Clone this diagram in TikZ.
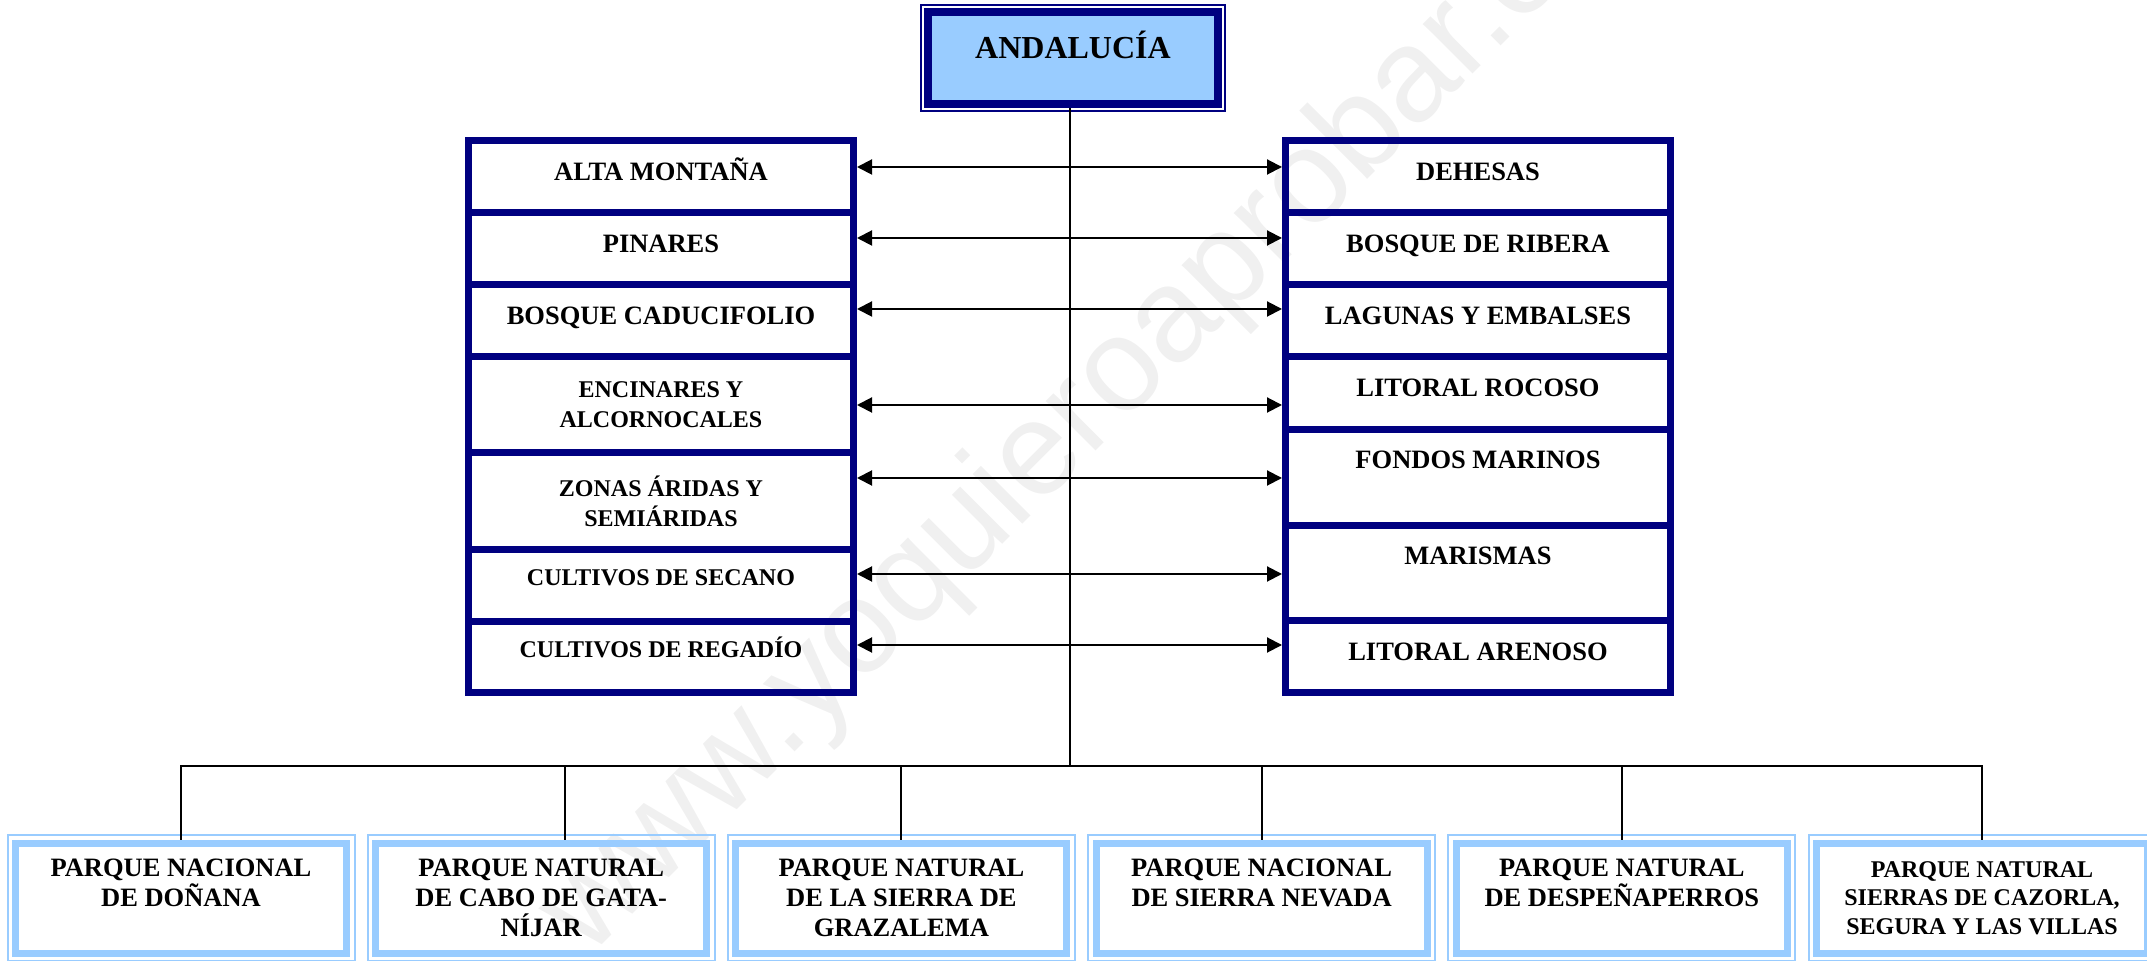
\documentclass[tikz,border=0pt]{standalone}
\usepackage{fontspec}
\setmainfont{Liberation Serif}
\newfontfamily\wmfont{Liberation Sans}
\usetikzlibrary{arrows.meta}

\definecolor{frnavy}{RGB}{0,0,128}
\definecolor{frsky}{RGB}{153,204,255}
\definecolor{wmgray}{RGB}{240,240,240}

\tikzset{every picture/.style={line width=1pt}}
\tikzset{
  navyrow/.style={draw=frnavy, line width=3.5pt, minimum width=192.5pt, inner sep=0pt,
    font=\fontsize{13.25}{15}\selectfont\bfseries},
  onetxt/.style={text height=9pt, text depth=5.5pt},
  toptxt/.style={text height=9pt, text depth=18pt},
  smalltxt/.style={font=\fontsize{12}{15}\selectfont\bfseries},
  parkbox/.style={draw=frsky, line width=3.5pt, minimum width=165.5pt, minimum height=55pt,
    inner sep=0pt, align=center, font=\fontsize{13.25}{15}\selectfont\bfseries},
  thinframe/.style={line width=1pt},
  link/.style={line width=1pt},
  biarr/.style={line width=1pt, {Triangle[length=7.5pt,width=7.5pt]}-{Triangle[length=7.5pt,width=7.5pt]}},
}

\begin{document}
\begin{tikzpicture}[x=0.5pt,y=-0.5pt]
		\useasboundingbox (0,0) rectangle (2147,961);

		% watermark
		\node[anchor=base, rotate=45, text=wmgray, font=\wmfont\fontsize{66.5}{70}\selectfont] (wm) at (1103,444) {www.yoquieroaprobar.es};

		% top box
		\node[draw=frnavy, fill=frsky, line width=4pt, minimum width=145.25pt, minimum height=45.75pt, inner sep=0pt,
			text height=12pt, text depth=11.6pt, font=\fontsize{16}{19}\selectfont\bfseries] (and) at (1073,58.25) {ANDALUCÍA};
		\draw[frnavy, thinframe] ([shift={(-3,-3)}]and.north west) rectangle ([shift={(3,3)}]and.south east);

		% left column
		\node[navyrow, onetxt, minimum height=36pt] (l1) at (661,177) {ALTA MONTAÑA};
		\node[navyrow, onetxt, minimum height=36pt] (l2) at (661,249) {PINARES};
		\node[navyrow, onetxt, minimum height=36pt] (l3) at (661,321) {BOSQUE CADUCIFOLIO};
		\node[navyrow, smalltxt, align=center, minimum height=48pt] (l4) at (661,405) {ENCINARES Y\\ALCORNOCALES};
		\node[navyrow, smalltxt, align=center, minimum height=48.5pt] (l5) at (661,501.5) {ZONAS ÁRIDAS Y\\SEMIÁRIDAS};
		\node[navyrow, smalltxt, text height=8pt, text depth=8pt, minimum height=36pt] (l6) at (661,586) {CULTIVOS DE SECANO};
		\node[navyrow, smalltxt, text height=8pt, text depth=8pt, minimum height=35.5pt] (l7) at (661,657.5) {CULTIVOS DE REGADÍO};

		% right column
		\node[navyrow, onetxt, minimum height=36pt] (r1) at (1478,177) {DEHESAS};
		\node[navyrow, onetxt, minimum height=36pt] (r2) at (1478,249) {BOSQUE DE RIBERA};
		\node[navyrow, onetxt, minimum height=36pt] (r3) at (1478,321) {LAGUNAS Y EMBALSES};
		\node[navyrow, onetxt, minimum height=36.5pt] (r4) at (1478,393.5) {LITORAL ROCOSO};
		\node[navyrow, toptxt, minimum height=48pt] (r5) at (1478,478) {FONDOS MARINOS};
		\node[navyrow, toptxt, minimum height=47.5pt] (r6) at (1478,573.5) {MARISMAS};
		\node[navyrow, onetxt, minimum height=36pt] (r7) at (1478,657) {LITORAL ARENOSO};

		% arrows between the columns
		\foreach \i/\h in {1/167,2/238,3/309,4/405,5/478,6/574,7/645}{
			\coordinate (a\i) at (1070,\h);
			\draw[biarr] (l\i.east |- a\i) -- (r\i.west |- a\i);
		}

		% parks
		\node[parkbox] (b1) at (181,898) {PARQUE NACIONAL\\DE DOÑANA\\\mbox{}};
		\node[parkbox] (b2) at (541.2,898) {PARQUE NATURAL\\DE CABO DE GATA-\\NÍJAR};
		\node[parkbox] (b3) at (901.4,898) {PARQUE NATURAL\\DE LA SIERRA DE\\GRAZALEMA};
		\node[parkbox] (b4) at (1261.6,898) {PARQUE NACIONAL\\DE SIERRA NEVADA\\\mbox{}};
		\node[parkbox] (b5) at (1621.8,898) {PARQUE NATURAL\\DE DESPEÑAPERROS\\\mbox{}};
		\node[parkbox, font=\fontsize{12}{14.25}\selectfont\bfseries] (b6) at (1982,898) {PARQUE NATURAL\\SIERRAS DE CAZORLA,\\SEGURA Y LAS VILLAS};
		\foreach \i in {1,...,6}
			\draw[frsky, thinframe] ([shift={(-4.5,-4.5)}]b\i.north west) rectangle ([shift={(4.5,4.5)}]b\i.south east);

		% tree
		\coordinate (bus) at (1070,766);
		\draw[link] (and.south -| bus) -- (bus);
		\draw[link] (b1.north) |- (bus);
		\draw[link] (b6.north) |- (bus);
		\draw[link] ([xshift=12pt]b2.north) |- (bus);
		\foreach \b in {b3,b4,b5}
			\draw[link] (\b.north) |- (bus);
\end{tikzpicture}
\end{document}
